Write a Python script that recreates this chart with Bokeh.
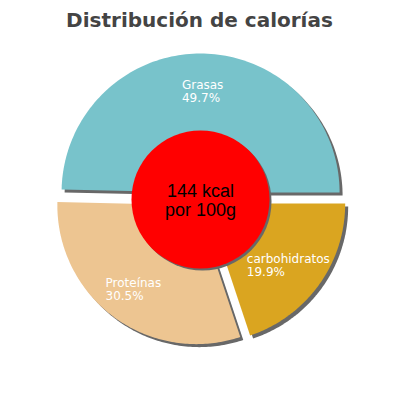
import numpy as np
from bokeh.plotting import figure
from bokeh.models import Range1d
from bokeh.embed import file_html
from bokeh.resources import INLINE
from bokeh.core.properties import value

# ---- data ----
title_text = "Distribución de calorías"
categories = ["carbohidratos", "Proteínas", "Grasas"]
percents = [19.9, 30.5, 49.7]
colors = ["#daa520", "#edc591", "#78c3cb"]
energy_lines = ["144 kcal", "por 100g"]

# ---- layout constants (reference pixel space) ----
CX, CY, R = 200.0, 199.0, 139.0
GAP = 7.0
SHADOW = 3.0
HOLE_R = 69.0
HOLE_SHADOW = 2.0
LABEL_R = 110.0
SHADOW_COLOR = "#686868"

p = figure(width=384, height=384, x_range=Range1d(0, 384), y_range=Range1d(384, 0),
           output_backend="svg", toolbar_location=None, min_border=0)
p.axis.visible = False
p.grid.visible = False
p.outline_line_color = None
p.background_fill_color = "white"
p.border_fill_color = "white"

vals = np.array(percents, dtype=float)
fracs = vals / vals.sum()

slice_xs, slice_ys, sh_xs, sh_ys, mids = [], [], [], [], []
start = 0.0
for f in fracs:
    end = start - f * 2 * np.pi
    mid = (start + end) / 2
    ox, oy = GAP * np.cos(mid), -GAP * np.sin(mid)
    a = np.linspace(start, end, 120)
    xs = np.concatenate([[CX + ox], CX + ox + R * np.cos(a)])
    ys = np.concatenate([[CY + oy], CY + oy - R * np.sin(a)])
    slice_xs.append(list(xs)); slice_ys.append(list(ys))
    sh_xs.append(list(xs + SHADOW)); sh_ys.append(list(ys + SHADOW))
    mids.append(mid)
    start = end

p.patches(sh_xs, sh_ys, fill_color=SHADOW_COLOR, line_color=None)
p.patches(slice_xs, slice_ys, fill_color=colors, line_color=None)

# center hole
p.circle(x=[CX + HOLE_SHADOW], y=[CY + HOLE_SHADOW], radius=HOLE_R,
         fill_color=SHADOW_COLOR, line_color=None)
p.circle(x=[CX], y=[CY], radius=HOLE_R, fill_color="#ff0000", line_color=None)

# labels
for name, pct, mid in zip(categories, percents, mids):
    ax = CX + LABEL_R * np.cos(mid)
    ay = CY - LABEL_R * np.sin(mid)
    w = max(len(name), len(f"{pct}%")) * 6.6
    lx = ax - w / 2
    p.text(x=[lx], y=[ay - 5], text=[name], text_color="white",
           text_font=value("DejaVu Sans"), text_font_size="12px",
           text_align="left", text_baseline="alphabetic")
    p.text(x=[lx], y=[ay + 8], text=[f"{pct}%"], text_color="white",
           text_font=value("DejaVu Sans"), text_font_size="12px",
           text_align="left", text_baseline="alphabetic")

# center text
p.text(x=[CX], y=[CY - 9], text=[energy_lines[0]], text_color="black",
       text_font=value("Liberation Sans"), text_font_size="18px",
       text_align="center", text_baseline="alphabetic")
p.text(x=[CX], y=[CY + 10], text=[energy_lines[1]], text_color="black",
       text_font=value("Liberation Sans"), text_font_size="18px",
       text_align="center", text_baseline="alphabetic")

# title
p.text(x=[199], y=[19], text=[title_text], text_color="#444444",
       text_font=value("DejaVu Sans"), text_font_size="20px", text_font_style="bold",
       text_align="center", text_baseline="alphabetic")

open("out.html", "w").write(file_html(p, INLINE))
